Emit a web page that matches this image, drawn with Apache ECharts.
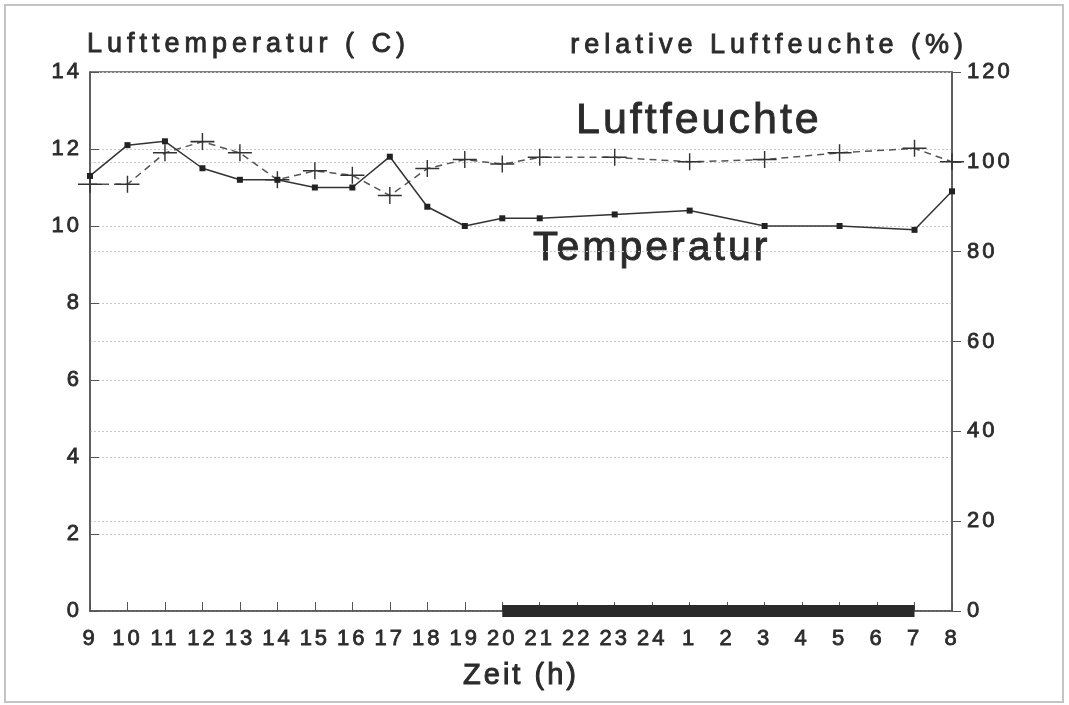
<!DOCTYPE html>
<html>
<head>
<meta charset="utf-8">
<script src="https://cdn.jsdelivr.net/npm/echarts@6/dist/echarts.min.js"></script>
<style>
  html, body { margin: 0; padding: 0; background: #fff; }
  #main { width: 1069px; height: 705px; }
</style>
</head>
<body>
<div id="main"></div>
<script>
// Stunden (x-Achse), Messwerte; null = kein Messpunkt
var hours = ['9', '10', '11', '12', '13', '14', '15', '16', '17', '18', '19', '20',
  '21', '22', '23', '24', '1', '2', '3', '4', '5', '6', '7', '8']
var temperatur = [11.3, 12.1, 12.2, 11.5, 11.2, 11.2, 11.0, 11.0, 11.8, 10.5, 10.0, 10.2,
  10.2, null, 10.3, null, 10.4, null, 10.0, null, 10.0, null, 9.9, 10.9]
var feuchte = [95, 95, 102, 104.5, 102, 96, 98, 97, 92.5, 98.5, 100.5, 99.5,
  101, null, 101, null, 100, null, 100.5, null, 102, null, 103, 100]
// Nachtbalken (20 bis 7 Uhr)
var nacht = [null, null, null, null, null, null, null, null, null, null, null, 0,
  0, 0, 0, 0, 0, 0, 0, 0, 0, 0, 0, null]

var FONT = '"Liberation Sans", Arial, Helvetica, sans-serif'
var TXT = '#2b2b2b'
var plus = 'path://M0,4.55H10V5.45H0ZM4.7,0H5.3V10H4.7Z'

var chartDom = document.getElementById('main')
var myChart = echarts.init(chartDom, null, { renderer: 'canvas' })

// gesperrte Schrift wie im Original
var painter = myChart.getZr().painter
try {
  painter.getLayer(0).ctx.letterSpacing = '3px'
  painter.getLayer(1).ctx.letterSpacing = '5px'
} catch (e) {}

var labelStyle = {
  fontSize: 22,
  color: TXT,
  fontFamily: FONT,
  textBorderColor: TXT,
  textBorderWidth: 0.8,
}

function bigText(txt, x, y, size, layer, align) {
  return {
    type: 'text',
    zlevel: layer,
    x: x,
    y: y,
    style: {
      text: txt,
      font: size + 'px ' + FONT,
      fill: TXT,
      stroke: TXT,
      lineWidth: 0.9,
      align: align, textAlign: align,
      verticalAlign: 'middle', textVerticalAlign: 'middle',
    },
  }
}

var option = {
  animation: false,
  backgroundColor: '#fff',
  textStyle: { fontFamily: FONT, color: TXT },
  grid: {
    left: 90,
    right: 117,
    top: 72,
    bottom: 94,
    show: true,
    borderColor: '#555',
    borderWidth: 1.5,
  },
  xAxis: {
    type: 'category',
    data: hours,
    boundaryGap: false,
    name: 'Zeit (h)',
    nameLocation: 'middle',
    nameGap: 50,
    nameTextStyle: Object.assign({}, labelStyle, { fontSize: 29, textBorderWidth: 1 }),
    axisLine: { lineStyle: { color: '#555', width: 1.5 } },
    axisTick: { inside: true, length: 9, lineStyle: { color: '#555' } },
    axisLabel: Object.assign({ interval: 0, margin: 17 }, labelStyle),
    splitLine: { show: false },
  },
  yAxis: [
    {
      type: 'value',
      min: 0,
      max: 14,
      interval: 2,
      position: 'left',
      axisLine: { show: true, lineStyle: { color: '#555', width: 1.5 } },
      axisTick: { show: true, inside: true, length: 9, lineStyle: { color: '#555' } },
      axisLabel: Object.assign({ margin: 8 }, labelStyle),
      splitLine: { lineStyle: { color: '#c8c8c8', width: 1, type: [2, 2] } },
    },
    {
      type: 'value',
      min: 0,
      max: 120,
      interval: 20,
      position: 'right',
      axisLine: { show: true, lineStyle: { color: '#555', width: 1.5 } },
      axisTick: { show: true, length: 9, lineStyle: { color: '#555' } },
      axisLabel: Object.assign({ margin: 15 }, labelStyle),
      splitLine: { lineStyle: { color: '#c8c8c8', width: 1, type: [2, 2] } },
    },
  ],
  series: [
    {
      name: 'Nacht',
      type: 'line',
      yAxisIndex: 0,
      data: nacht,
      symbol: 'none',
      clip: false,
      lineStyle: { color: '#2a2a2a', width: 12 },
      z: 1,
    },
    {
      name: 'Temperatur',
      type: 'line',
      yAxisIndex: 0,
      data: temperatur,
      connectNulls: true,
      symbol: 'rect',
      symbolSize: 6,
      itemStyle: { color: '#222' },
      lineStyle: { color: '#333', width: 1.5 },
      z: 3,
    },
    {
      name: 'Luftfeuchte',
      type: 'line',
      yAxisIndex: 1,
      data: feuchte,
      connectNulls: true,
      symbol: plus,
      symbolSize: [24, 17],
      symbolKeepAspect: false,
      itemStyle: { color: '#333' },
      lineStyle: { color: '#555', width: 1.5, type: [7, 5] },
      z: 2,
    },
  ],
  graphic: [
    {
      type: 'rect',
      silent: true,
      shape: { x: 5, y: 5, width: 1058, height: 697 },
      style: { fill: 'none', stroke: '#c4c4c4', lineWidth: 2 },
    },
    bigText('Lufttemperatur ( C)', 87, 45, 27, 1, 'left'),
    bigText('relative Luftfeuchte (%)', 968, 46, 27, 1, 'right'),
    bigText('Luftfeuchte', 576, 121, 43, 0, 'left'),
    bigText('Temperatur', 533, 249, 41, 0, 'left'),
  ],
}

option && myChart.setOption(option)
</script>
</body>
</html>
